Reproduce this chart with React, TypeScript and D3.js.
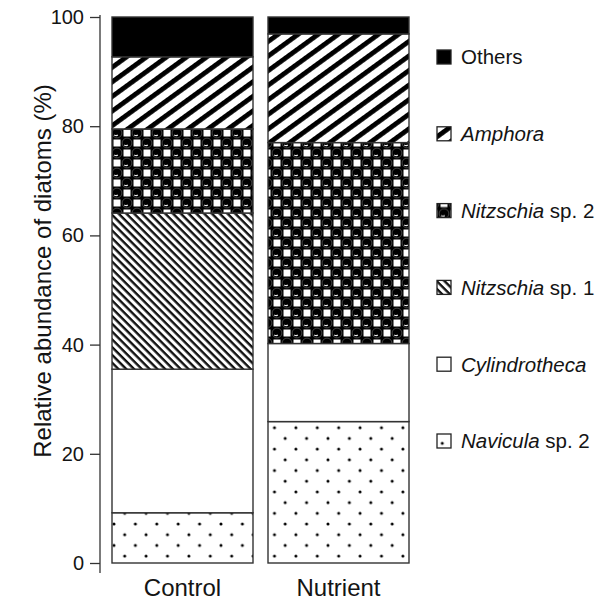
import * as d3 from "d3";
import { useEffect, useRef } from "react";

const groups = ["Control", "Nutrient"];
const species = ["Navicula sp. 2", "Cylindrotheca", "Nitzschia sp. 1", "Nitzschia sp. 2", "Amphora", "Others"];
const controlValues = [9.2, 26.3, 28.6, 15.4, 13.2, 7.3];
const nutrientValues = [25.9, 14.3, 0, 36.8, 19.9, 3.1];
const yTicks = [0, 20, 40, 60, 80, 100];

// legend label parts: [italic, plain]
const legendParts: Record<string, [string, string]> = {
  "Others": ["", "Others"],
  "Amphora": ["Amphora", ""],
  "Nitzschia sp. 2": ["Nitzschia", " sp. 2"],
  "Nitzschia sp. 1": ["Nitzschia", " sp. 1"],
  "Cylindrotheca": ["Cylindrotheca", ""],
  "Navicula sp. 2": ["Navicula", " sp. 2"],
};

const fillFor: Record<string, string> = {
  "Navicula sp. 2": "url(#pDots)",
  "Cylindrotheca": "#fff",
  "Nitzschia sp. 1": "url(#pFine)",
  "Nitzschia sp. 2": "url(#pCheck)",
  "Amphora": "url(#pThick)",
  "Others": "#000",
};

export default function App() {
  const ref = useRef<SVGSVGElement>(null);

  const width = 601;
  const height = 600;
  const font = "'Liberation Sans', Arial, Helvetica, sans-serif";
  const ink = "#141414";

  useEffect(() => {
    const svg = d3.select(ref.current);
    svg.selectAll("*").remove();

    const rows = groups.map((g, gi) => {
      const vals = gi === 0 ? controlValues : nutrientValues;
      const r: any = { group: g };
      species.forEach((s, i) => (r[s] = vals[i]));
      return r;
    });

    const x = d3.scaleBand().domain(groups).range([112, 409]).paddingInner(15 / 156).paddingOuter(0);
    const y = d3.scaleLinear().domain([0, 100]).range([563, 17]);

    const defs = svg.append("defs");

    // dotted (Navicula)
    const dots = (id: string, ox: number, oy: number) => {
      const pd = defs.append("pattern").attr("id", id).attr("patternUnits", "userSpaceOnUse")
        .attr("x", ox).attr("y", oy).attr("width", 21.4).attr("height", 21.4);
      pd.append("rect").attr("width", 21.4).attr("height", 21.4).attr("fill", "#fff");
      [[0, 0], [10.7, 10.7], [21.4, 0], [0, 21.4], [21.4, 21.4]].forEach(([cx, cy]) =>
        pd.append("circle").attr("cx", cx).attr("cy", cy).attr("r", 1.5).attr("fill", "#000"));
    };
    dots("pDots", 114, 524);
    dots("pDotsLeg", 444, 441);

    // fine stripes (Nitzschia sp. 1)
    const pf = defs.append("pattern").attr("id", "pFine").attr("patternUnits", "userSpaceOnUse")
      .attr("width", 10).attr("height", 5.5).attr("patternTransform", "rotate(45)");
    pf.append("rect").attr("width", 10).attr("height", 5.5).attr("fill", "#fff");
    pf.append("rect").attr("width", 10).attr("height", 2.4).attr("fill", "#111");

    // thick stripes (Amphora)
    const pt = defs.append("pattern").attr("id", "pThick").attr("patternUnits", "userSpaceOnUse")
      .attr("width", 20).attr("height", 11.8).attr("patternTransform", "rotate(-36)");
    pt.append("rect").attr("width", 20).attr("height", 11.8).attr("fill", "#fff");
    pt.append("rect").attr("width", 20).attr("height", 4.8).attr("fill", "#000");

    // checker with circles (Nitzschia sp. 2)
    const pc = defs.append("pattern").attr("id", "pCheck").attr("patternUnits", "userSpaceOnUse")
      .attr("x", 112).attr("y", 18).attr("width", 20).attr("height", 20);
    pc.append("rect").attr("width", 20).attr("height", 20).attr("fill", "#000");
    [[1.5, 1.5], [11.5, 11.5]].forEach(([sx, sy]) =>
      pc.append("rect").attr("x", sx).attr("y", sy).attr("width", 7).attr("height", 7).attr("fill", "#fff"));
    [[15, 5], [5, 15], [-5, 5], [5, -5], [15, 25], [25, 15]].forEach(([cx, cy]) => {
      pc.append("circle").attr("cx", cx).attr("cy", cy).attr("r", 4.9)
        .attr("fill", "#000").attr("stroke", "#888").attr("stroke-width", 0.5);
    });
    [[15, 5], [5, 15]].forEach(([cx, cy]) => {
      pc.append("path").attr("d", `M${cx - 2.8},${cy + 2} Q${cx - 0.5},${cy + 3.2} ${cx + 0.8},${cy + 2}`)
        .attr("fill", "none").attr("stroke", "#eee").attr("stroke-width", 1.1);
    });

    const stacked = d3.stack().keys(species)(rows);

    const layer = svg.append("g").selectAll("g").data(stacked).join("g")
      .attr("fill", d => fillFor[d.key]);

    layer.selectAll("rect")
      .data(d => d.filter(s => s[1] - s[0] > 0))
      .join("rect")
      .attr("x", d => x((d.data as any).group)!)
      .attr("width", x.bandwidth())
      .attr("y", d => y(d[1]))
      .attr("height", d => y(d[0]) - y(d[1]))
      .attr("stroke", "#333")
      .attr("stroke-width", 1.4);

    // y axis
    const yAxis = svg.append("g")
      .attr("transform", "translate(100,0)")
      .call(d3.axisLeft(y).tickValues(yTicks).tickSize(10).tickPadding(6));
    yAxis.select(".domain").remove();
    yAxis.selectAll("line").attr("stroke", "#333").attr("stroke-width", 1.3);
    yAxis.selectAll("text").attr("font-family", font).attr("font-size", 20).attr("fill", ink);
    svg.append("line").attr("x1", 100).attr("x2", 100).attr("y1", 15).attr("y2", 573)
      .attr("stroke", "#333").attr("stroke-width", 1.3);

    svg.append("text")
      .attr("transform", "translate(51,271) rotate(-90)")
      .attr("text-anchor", "middle")
      .attr("font-family", font).attr("font-size", 24).attr("fill", ink)
      .text("Relative abundance of diatoms (%)");

    // x labels
    svg.append("g").selectAll("text").data(groups).join("text")
      .attr("x", d => x(d)! + x.bandwidth() / 2)
      .attr("y", 596)
      .attr("text-anchor", "middle")
      .attr("font-family", font).attr("font-size", 24).attr("fill", ink)
      .text(d => d);

    // legend
    const legendOrder = species.slice().reverse();
    const legendY = d3.scalePoint().domain(legendOrder).range([57, 441]);
    const lg = svg.append("g").selectAll("g").data(legendOrder).join("g")
      .attr("transform", d => `translate(437,${legendY(d)})`);
    lg.append("rect").attr("x", 0).attr("y", -7).attr("width", 14).attr("height", 14)
      .attr("fill", d => (d === "Navicula sp. 2" ? "url(#pDotsLeg)" : fillFor[d]))
      .attr("stroke", "#222").attr("stroke-width", 1.3);
    const lt = lg.append("text").attr("x", 24).attr("dy", "0.36em")
      .attr("font-family", font).attr("font-size", 20.5).attr("fill", ink);
    lt.append("tspan").attr("font-style", "italic").text(d => legendParts[d][0]);
    lt.append("tspan").text(d => legendParts[d][1]);
  }, []);

  return (
    <div style={{ position: "absolute", left: 0, top: 0, background: "#fff" }}>
      <svg ref={ref} width={width} height={height} style={{ display: "block" }} />
    </div>
  );
}
